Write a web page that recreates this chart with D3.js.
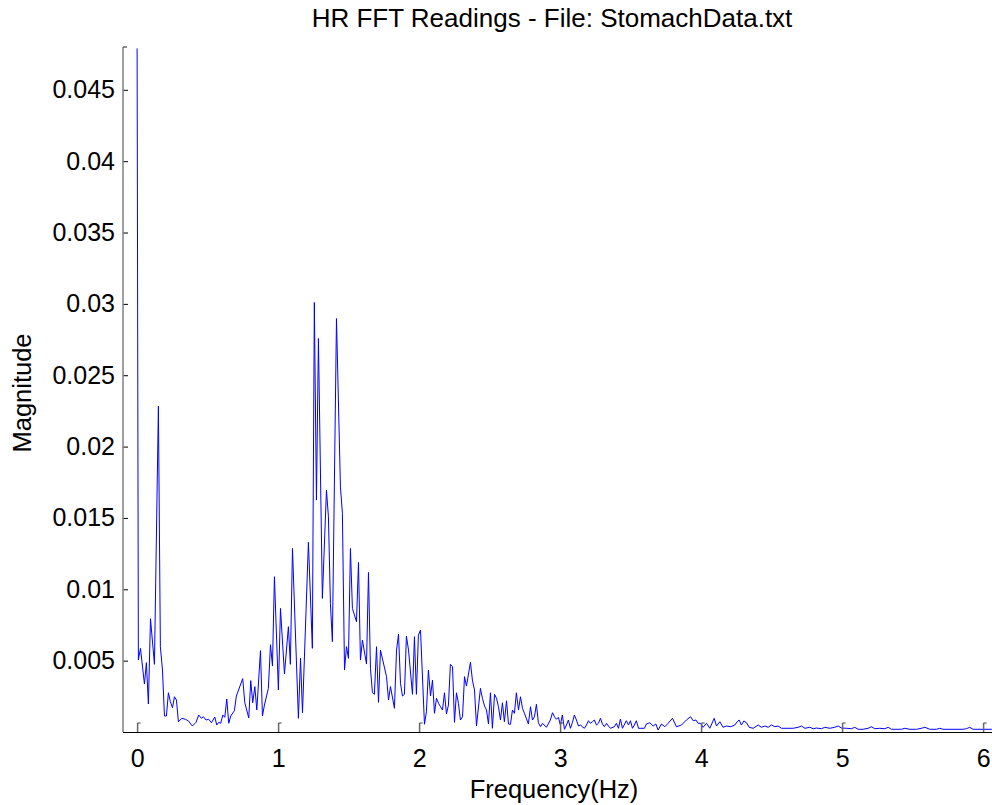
<!DOCTYPE html>
<html>
<head>
<meta charset="utf-8">
<script src="https://cdn.jsdelivr.net/npm/d3@7"></script>
<style>
  body { margin: 0; background: #fff; }
  svg { display: block; font-family: "Liberation Sans", Arial, sans-serif; }
</style>
</head>
<body>
<div id="chart"></div>
<script>
// Values
const freqHz = [
  0, 0.009, 0.024, 0.052, 0.066, 0.080, 0.095, 0.123, 0.151, 0.165, 0.180, 0.194, 0.208, 0.222, 0.236, 0.251,
  0.265, 0.279, 0.293, 0.317, 0.343, 0.364, 0.392, 0.418, 0.437, 0.456, 0.470, 0.489, 0.508, 0.527, 0.551, 0.565,
  0.579, 0.593, 0.608, 0.622, 0.636, 0.650, 0.664, 0.690, 0.704, 0.749, 0.764, 0.792, 0.806, 0.820, 0.835, 0.849,
  0.875, 0.889, 0.903, 0.931, 0.946, 0.960, 0.974, 1.002, 1.017, 1.045, 1.073, 1.087, 1.102,
  1.144, 1.159, 1.173, 1.215, 1.243, 1.257, 1.272, 1.286, 1.314, 1.343, 1.357, 1.371, 1.385, 1.414, 1.442, 1.456,
  1.471, 1.485, 1.499, 1.513, 1.527, 1.556, 1.570, 1.584, 1.598, 1.627, 1.641, 1.655, 1.669, 1.683, 1.698, 1.712,
  1.726, 1.769, 1.783, 1.797, 1.825, 1.840, 1.854, 1.868, 1.882, 1.896, 1.910, 1.925, 1.953, 1.967, 1.981, 1.995,
  2.010, 2.038, 2.052, 2.066, 2.081, 2.095, 2.109,
  2.123, 2.138, 2.152, 2.166, 2.180, 2.194, 2.208, 2.222, 2.237, 2.251, 2.265, 2.279, 2.293, 2.308, 2.322, 2.336,
  2.364, 2.378, 2.393, 2.407, 2.435, 2.449, 2.464, 2.478, 2.492, 2.506, 2.520, 2.535, 2.549, 2.563, 2.577, 2.591,
  2.605, 2.620, 2.634, 2.648, 2.662, 2.676, 2.690, 2.705, 2.719, 2.733, 2.747, 2.775, 2.790, 2.804, 2.818, 2.832,
  2.846, 2.861, 2.875, 2.903, 2.931, 2.946, 2.960, 2.974, 2.988, 3.002, 3.016, 3.031, 3.045, 3.059, 3.073, 3.087,
  3.101, 3.116, 3.130, 3.144, 3.158, 3.172, 3.187, 3.201, 3.215, 3.229,
  3.243, 3.258, 3.272, 3.286, 3.300, 3.314, 3.329, 3.343, 3.357, 3.385, 3.399, 3.414, 3.428, 3.442, 3.470, 3.485,
  3.499, 3.513, 3.527, 3.541, 3.556, 3.598, 3.612,
  3.636, 3.660, 3.679, 3.695, 3.719, 3.743, 3.766, 3.797, 3.825, 3.861, 3.896, 3.925, 3.944, 3.963, 3.979, 3.996,
  4.014, 4.038, 4.062, 4.093, 4.109, 4.133, 4.156, 4.180, 4.211, 4.239, 4.256, 4.270, 4.286, 4.303, 4.322, 4.341,
  4.369, 4.405, 4.428, 4.452, 4.476, 4.499, 4.523, 4.546, 4.570, 4.653, 4.688, 4.712, 4.736, 4.771, 4.795, 4.818,
  4.854, 4.877, 4.913, 4.948, 4.972, 4.995, 5.031, 5.066, 5.090, 5.113, 5.149, 5.185, 5.208, 5.232, 5.267, 5.303,
  5.327, 5.350, 5.421, 5.445, 5.480, 5.528, 5.563, 5.587, 5.622, 5.669, 5.693, 5.716, 5.858, 5.882, 5.905, 5.929,
  6.059, 6.200
];

const magnitude = [
  0.0479, 0.00504, 0.00586, 0.00336, 0.00486, 0.00196, 0.00794, 0.00474, 0.02283, 0.00598, 0.00434, 0.00112, 0.00112, 0.00275, 0.00212, 0.00170,
  0.00247, 0.00224, 0.00072, 0.00096, 0.00089, 0.00077, 0.00042, 0.00068, 0.00119, 0.00096, 0.00107, 0.00084, 0.00089, 0.00065, 0.00105, 0.00049,
  0.00068, 0.00061, 0.00119, 0.00103, 0.00231, 0.00061, 0.00112, 0.00149, 0.00252, 0.00374, 0.00205, 0.00098, 0.00360, 0.00205, 0.00318, 0.00154,
  0.00570, 0.00112, 0.00189, 0.00306, 0.00612, 0.00462, 0.01088, 0.00294, 0.00866, 0.00406, 0.00738, 0.00474, 0.01286,
  0.00096, 0.00516, 0.00135, 0.01329, 0.00586, 0.03010, 0.01625, 0.02757, 0.00936, 0.01695, 0.01508, 0.00901, 0.00633, 0.02897, 0.01718, 0.01532,
  0.00434, 0.00598, 0.00516, 0.01286, 0.00866, 0.00773, 0.01188, 0.00504, 0.00644, 0.00476, 0.01118, 0.00446, 0.00276, 0.00264, 0.00598, 0.00208,
  0.00574, 0.00388, 0.00224, 0.00318, 0.00166, 0.00574, 0.00686, 0.00341, 0.00252, 0.00264, 0.00672, 0.00574, 0.00264, 0.00668, 0.00264, 0.00679,
  0.00714, 0.00054, 0.00142, 0.00434, 0.00252, 0.00364, 0.00131,
  0.00236, 0.00201, 0.00177, 0.00154, 0.00275, 0.00126, 0.00189, 0.00474, 0.00458, 0.00068, 0.00275, 0.00201, 0.00084, 0.00107, 0.00388, 0.00322,
  0.00488, 0.00364, 0.00294, 0.00042, 0.00306, 0.00236, 0.00182, 0.00154, 0.00056, 0.00275, 0.00026, 0.00264, 0.00236, 0.00177, 0.00084, 0.00205,
  0.00072, 0.00219, 0.00056, 0.00054, 0.00154, 0.00131, 0.00275, 0.00154, 0.00247, 0.00166, 0.00131, 0.00056, 0.00177, 0.00084, 0.00107, 0.00194,
  0.00065, 0.00037, 0.00061, 0.00033, 0.00084, 0.00135, 0.00107, 0.00089, 0.00103, 0.00049, 0.00119, 0.00019, 0.00049, 0.00084, 0.00026, 0.00065,
  0.00119, 0.00084, 0.00042, 0.00049, 0.00037, 0.00026, 0.00049, 0.00079, 0.00061, 0.00072,
  0.00084, 0.00049, 0.00061, 0.00096, 0.00056, 0.00037, 0.00061, 0.00042, 0.00026, 0.00037, 0.00061, 0.00026, 0.00091, 0.00026, 0.00079, 0.00049,
  0.00079, 0.00026, 0.00049, 0.00079, 0.00026, 0.00026, 0.00056,
  0.00065, 0.00042, 0.00056, 0.00014, 0.00056, 0.00037, 0.00061, 0.00096, 0.00037, 0.00049, 0.00084, 0.00107, 0.00079, 0.00084, 0.00061, 0.00061,
  0.00033, 0.00061, 0.00026, 0.00096, 0.00042, 0.00072, 0.00033, 0.00042, 0.00037, 0.00049, 0.00072, 0.00084, 0.00049, 0.00077, 0.00065, 0.00033,
  0.00026, 0.00049, 0.00033, 0.00042, 0.00033, 0.00049, 0.00037, 0.00042, 0.00026, 0.00026, 0.00033, 0.00042, 0.00026, 0.00033, 0.00023, 0.00028,
  0.00023, 0.00033, 0.00026, 0.00033, 0.00042, 0.00028, 0.00026, 0.00023, 0.00033, 0.00019, 0.00019, 0.00026, 0.00037, 0.00023, 0.00026, 0.00023,
  0.00033, 0.00019, 0.00019, 0.00026, 0.00019, 0.00019, 0.00026, 0.00033, 0.00019, 0.00019, 0.00026, 0.00019, 0.00019, 0.00023, 0.00033, 0.00019,
  0.00019, 0.00019
];

const xTicks = [0, 1, 2, 3, 4, 5, 6];
const yTicks = [0.005, 0.01, 0.015, 0.02, 0.025, 0.03, 0.035, 0.04, 0.045];

const titleText = "HR FFT Readings - File: StomachData.txt";
const xLabelText = "Frequency(Hz)";
const yLabelText = "Magnitude";

const width = 992, height = 805;
const plotLeft = 123, plotTop = 47, plotBottom = 732;

const x = d3.scaleLinear().domain([-0.1, 6.1]).range([plotLeft, plotLeft + 6.2 * 141]);
const y = d3.scaleLinear().domain([0, 0.048]).range([plotBottom, plotTop]);

const svg = d3.select("#chart").append("svg")
  .attr("width", width)
  .attr("height", height);

// data line
const points = freqHz.map((f, i) => [f, magnitude[i]]);
svg.append("path")
  .datum(points)
  .attr("fill", "none")
  .attr("stroke", "#0000ff")
  .attr("stroke-width", 1)
  .attr("d", d3.line().x(d => x(d[0])).y(d => y(d[1])));

// y axis
const yAxis = svg.append("g")
  .attr("transform", `translate(${plotLeft},0)`)
  .call(d3.axisLeft(y).tickValues(yTicks).tickSize(-5).tickPadding(8).tickFormat(d3.format(".3~f")));
yAxis.select(".domain").remove();
yAxis.selectAll(".tick line").attr("stroke", "#000");
yAxis.selectAll(".tick text")
  .attr("fill", "#000")
  .style("font-size", "25px");
yAxis.attr("font-family", null).attr("font-size", null);

// x axis
const xAxis = svg.append("g")
  .attr("transform", `translate(0,${plotBottom})`)
  .call(d3.axisBottom(x).tickValues(xTicks).tickSize(-9).tickPadding(17).tickFormat(d3.format("d")));
xAxis.select(".domain").remove();
xAxis.selectAll(".tick line").attr("stroke", "#666").attr("stroke-width", 1.5);
xAxis.selectAll(".tick").append("line")
  .attr("x1", 0).attr("x2", 3).attr("y1", -9).attr("y2", -9)
  .attr("stroke", "#444");
xAxis.selectAll(".tick text")
  .attr("fill", "#000")
  .style("font-size", "25px");
xAxis.attr("font-family", null).attr("font-size", null);

// axis lines
svg.append("line")
  .attr("x1", plotLeft).attr("x2", plotLeft)
  .attr("y1", plotTop).attr("y2", plotBottom)
  .attr("stroke", "#808080").attr("stroke-width", 1.5);
svg.append("line")
  .attr("x1", plotLeft).attr("x2", plotLeft + 4)
  .attr("y1", plotTop).attr("y2", plotTop)
  .attr("stroke", "#222").attr("stroke-width", 1);
svg.append("line")
  .attr("x1", plotLeft).attr("x2", width)
  .attr("y1", plotBottom + 0.5).attr("y2", plotBottom + 0.5)
  .attr("stroke", "#000").attr("stroke-width", 1);

// labels
svg.append("text")
  .attr("x", 552).attr("y", 27)
  .attr("text-anchor", "middle")
  .style("font-size", "26px")
  .text(titleText);

svg.append("text")
  .attr("x", 554).attr("y", 798)
  .attr("text-anchor", "middle")
  .style("font-size", "25.5px")
  .text(xLabelText);

svg.append("text")
  .attr("transform", "translate(31,393) rotate(-90)")
  .attr("text-anchor", "middle")
  .style("font-size", "25.5px")
  .text(yLabelText);
</script>
</body>
</html>
